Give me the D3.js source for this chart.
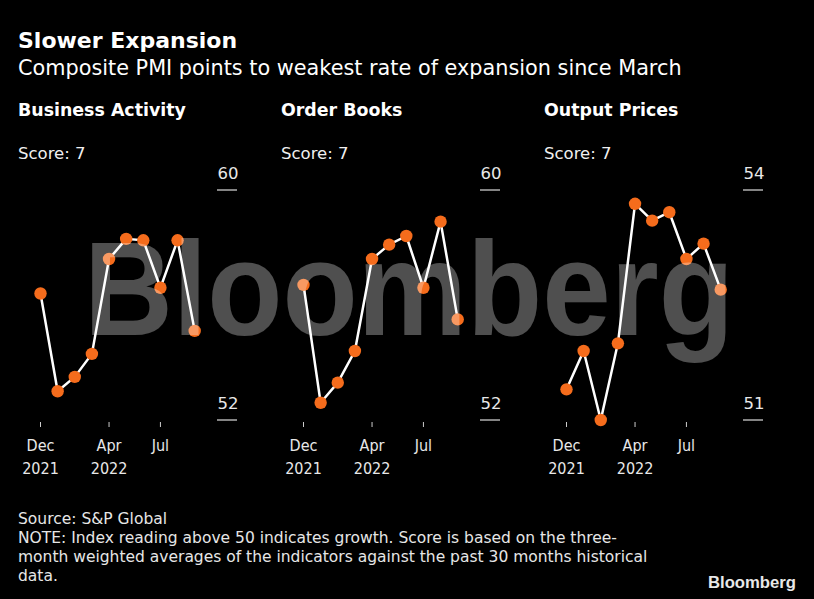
<!DOCTYPE html>
<html>
<head>
<meta charset="utf-8">
<script src="https://cdn.jsdelivr.net/npm/d3@7"></script>
<style>
  html, body { margin: 0; padding: 0; background: #000; }
  svg text { font-family: "DejaVu Sans", sans-serif; }
</style>
</head>
<body>
<div id="chart"></div>
<script>
// ---- data ----
const months = ["Dec 2021","Jan 2022","Feb 2022","Mar 2022","Apr 2022","May 2022","Jun 2022","Jul 2022","Aug 2022","Sep 2022"];
const businessActivity = [56.4, 53.0, 53.5, 54.3, 57.6, 58.3, 58.25, 56.6, 58.25, 55.1];
const orderBooks       = [56.7, 52.6, 53.3, 54.4, 57.6, 58.1, 58.4, 56.6, 58.9, 55.5];
const outputPrices     = [51.4, 51.9, 51.0, 52.0, 53.82, 53.6, 53.71, 53.1, 53.3, 52.7];
const panelTitles = ["Business Activity", "Order Books", "Output Prices"];
const scores = [7, 7, 7];
const yDomains = [[52, 60], [52, 60], [51, 54]];
const xTickIndex = [0, 4, 7];
const xTickLabels = [["Dec", "2021"], ["Apr", "2022"], ["Jul", ""]];

const W = 814, H = 599;
const svg = d3.select("#chart").append("svg").attr("width", W).attr("height", H);
svg.append("rect").attr("width", W).attr("height", H).attr("fill", "#000");

// titles
svg.append("text").attr("x", 18).attr("y", 48).attr("fill", "#fff")
  .attr("font-size", 22).attr("font-weight", "bold")
  .text("Slower Expansion");
svg.append("text").attr("x", 18).attr("y", 75).attr("fill", "#fff")
  .attr("font-size", 20.8).text("Composite PMI points to weakest rate of expansion since March");

const series = [businessActivity, orderBooks, outputPrices];
const panelX = [18, 281, 544];
const orange = "#f56c1c";

series.forEach((vals, i) => {
  const g = svg.append("g").attr("transform", `translate(${panelX[i]},0)`);
  g.append("text").attr("x", 0).attr("y", 116).attr("fill", "#fff")
    .attr("font-size", 17.4).attr("font-weight", "bold")
    .text(panelTitles[i]);
  g.append("text").attr("x", 0).attr("y", 159).attr("fill", "#f0f0f0")
    .attr("font-size", 16.5).text("Score: " + scores[i]);

  const x = d3.scaleLinear().domain([0, months.length - 1]).range([22.5, 176.7]);
  const y = d3.scaleLinear().domain(yDomains[i]).range([420, 190]);

  // y axis (right): label above short line
  const yTicks = yDomains[i];
  const ya = g.append("g");
  ya.selectAll("line").data(yTicks).join("line")
    .attr("x1", 199).attr("x2", 219)
    .attr("y1", d => y(d)).attr("y2", d => y(d))
    .attr("stroke", "#ddd").attr("stroke-width", 1.2);
  ya.selectAll("text").data(yTicks).join("text")
    .attr("x", 210).attr("y", d => y(d) - 11)
    .attr("text-anchor", "middle").attr("fill", "#e8e8e8")
    .attr("font-size", 16.5).text(d => d);

  // x axis ticks
  const xa = g.append("g");
  xa.selectAll("line").data(xTickIndex).join("line")
    .attr("x1", d => x(d)).attr("x2", d => x(d))
    .attr("y1", 422).attr("y2", 427)
    .attr("stroke", "#ccc").attr("stroke-width", 1);
  xTickIndex.forEach((d, k) => {
    xa.append("text").attr("x", x(d)).attr("y", 451)
      .attr("text-anchor", "middle").attr("fill", "#e8e8e8")
      .style("font-family", "'DejaVu Sans Condensed', sans-serif")
      .attr("font-size", 16).text(xTickLabels[k][0]);
    if (xTickLabels[k][1]) {
      xa.append("text").attr("x", x(d)).attr("y", 474)
        .attr("text-anchor", "middle").attr("fill", "#e8e8e8")
        .style("font-family", "'DejaVu Sans Condensed', sans-serif")
        .attr("font-size", 16).text(xTickLabels[k][1]);
    }
  });

  const line = d3.line().x((d, j) => x(j)).y(d => y(d));
  g.append("path").datum(vals).attr("d", line)
    .attr("fill", "none").attr("stroke", "#fff").attr("stroke-width", 2.5)
    .attr("stroke-linejoin", "round");
  g.selectAll("circle").data(vals).join("circle")
    .attr("cx", (d, j) => x(j)).attr("cy", d => y(d)).attr("r", 6.2)
    .attr("fill", orange);
});

// watermark overlay
svg.append("text").attr("x", 84).attr("y", 335)
  .attr("fill", "#fff").attr("fill-opacity", 0.31)
  .attr("font-size", 133).attr("font-weight", "bold")
  .style("font-family", "'Liberation Sans', Arial, sans-serif")
  .attr("textLength", 650).attr("lengthAdjust", "spacingAndGlyphs")
  .text("Bloomberg");

// footer
const footer = [
  "Source: S&P Global",
  "NOTE: Index reading above 50 indicates growth. Score is based on the three-",
  "month weighted averages of the indicators against the past 30 months historical",
  "data."
];
svg.append("g").selectAll("text").data(footer).join("text")
  .attr("x", 18).attr("y", (d, k) => 524 + k * 19)
  .attr("fill", "#e6e6e6").attr("font-size", 15.5).text(d => d);

svg.append("text").attr("x", 796).attr("y", 588).attr("text-anchor", "end")
  .attr("fill", "#e8e8e8").attr("font-size", 16.5).attr("font-weight", "bold")
  .style("font-family", "'Liberation Sans', Arial, sans-serif")
  .attr("textLength", 88).attr("lengthAdjust", "spacingAndGlyphs")
  .text("Bloomberg");
</script>
</body>
</html>
